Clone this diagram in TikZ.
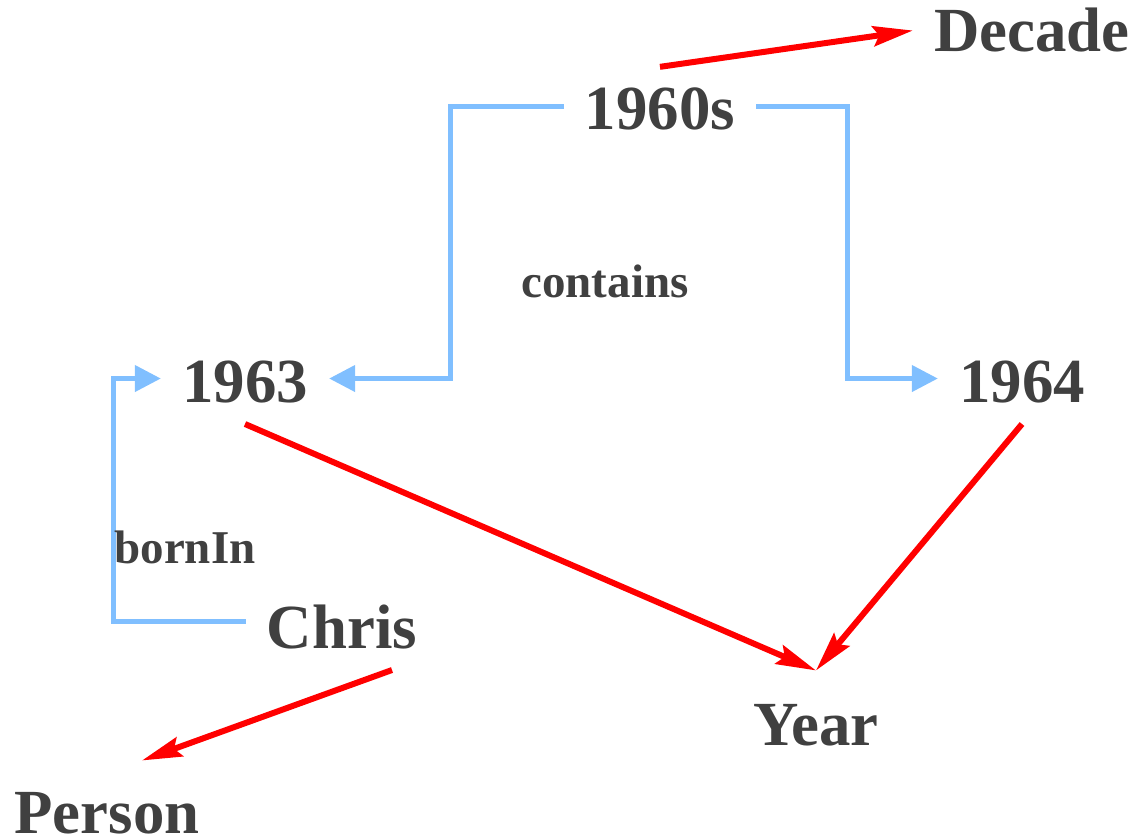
\documentclass[tikz,border=0pt]{standalone}
\usepackage{fontspec}
\setmainfont{Liberation Serif}
\usetikzlibrary{arrows.meta}
\definecolor{term}{HTML}{404040}
\definecolor{relblue}{HTML}{80BFFF}
\definecolor{isared}{HTML}{FF0000}

\begin{document}
\begin{tikzpicture}[
  x=0.5pt,y=-0.5pt,
  ent/.style={anchor=base,text=term,font=\fontsize{31.4}{36}\selectfont\bfseries,
    inner xsep=10.5pt,inner ysep=10.5pt},
  lbl/.style={anchor=base,text=term,font=\fontsize{23.5}{28}\selectfont\bfseries,inner sep=0pt},
  rel/.style={draw=relblue,line width=2.2pt,-{Triangle[length=13pt,width=13pt]}},
  isa/.style={draw=isared,line width=3pt,-{Stealth[length=20pt,width=10pt,inset=3pt]}}
]
\useasboundingbox (0,0) rectangle (1137,840);

% instances
\node[ent] (s60)   at (660,130)  {1960s};
\node[ent] (y63)   at (245,402)  {1963};
\node[ent] (y64)   at (1022,402) {1964};
\node[ent] (chris) at (342,648)  {Chris};
% classes
\node[ent] (decade) at (1032,52) {Decade};
\node[ent] (year)   at (816,745) {Year};
\node[ent] (person) at (107,833) {Person};

% relations
\draw[rel] ([yshift=1.5pt]s60.west) -- ++(-113,0) |- ([yshift=1.5pt]y63.east);
\draw[rel] ([yshift=1.5pt]s60.east) -- ++(91,0) |- ([yshift=1.5pt]y64.west);
\draw[rel] ([yshift=2.5pt]chris.west) -- ++(-132,0) |- ([yshift=1.5pt]y63.west);
\node[lbl] (contains) at (605,298) {contains};
\node[lbl] (bornin)   at (185,563) {bornIn};

% types
\draw[isa] (s60.north) -- (decade.west);
\draw[isa] (y63.south) -- ([yshift=6pt]year.north);
\draw[isa] (y64.south) -- ([yshift=6pt]year.north);
\draw[isa] ([xshift=25pt]chris.south) -- ([shift={(35,-10)}]person.north);
\end{tikzpicture}
\end{document}
